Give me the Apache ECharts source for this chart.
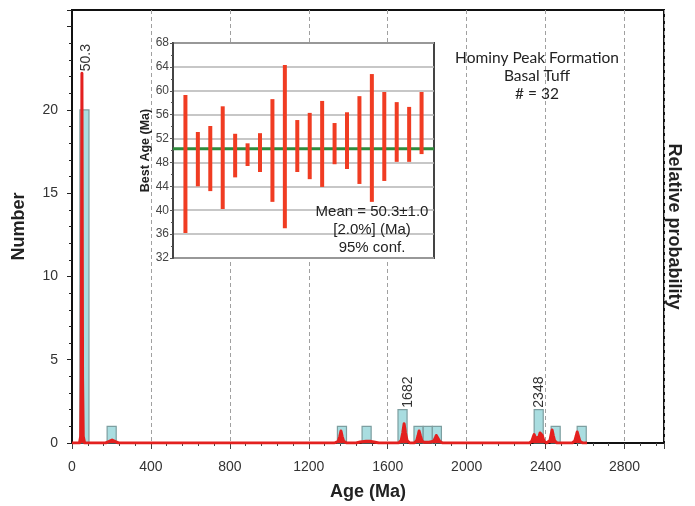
<!DOCTYPE html>
<html><head><meta charset="utf-8">
<script src="https://cdn.jsdelivr.net/npm/echarts@6/dist/echarts.min.js"></script>
<style>html,body{margin:0;padding:0;background:#fff}#c{width:695px;height:506px}</style>
</head><body><div id="c"></div>
<script>
// ---- Main histogram (Age, Ma) ----
const binStart = [40, 178, 1345, 1470, 1652, 1733, 1780, 1826, 2342, 2428, 2560];
const binEnd   = [86, 224, 1391, 1516, 1698, 1779, 1826, 1872, 2388, 2474, 2606];
const binCount = [20, 1, 1, 1, 2, 1, 1, 1, 2, 1, 1];

// ---- Relative probability curve (in "Number" units) ----
const probAge = [0, 38, 44, 47, 49, 50.3, 51.6, 53.5, 57, 64,
  170, 186, 203, 220, 236,
  1330, 1349, 1357, 1363, 1369, 1377, 1392,
  1440, 1460, 1490, 1510, 1530, 1555,
  1655, 1668, 1676, 1683, 1690, 1698, 1712,
  1735, 1747, 1754, 1759, 1765, 1773, 1785, 1810, 1832, 1841, 1846, 1850, 1855, 1863, 1878,
  2318, 2330, 2337, 2342, 2349, 2358, 2366, 2372, 2377, 2383, 2392, 2405,
  2412, 2422, 2428, 2433, 2439, 2446, 2458,
  2535, 2548, 2555, 2560, 2566, 2574, 2588, 2610];
const probVal = [0, 0, 0.4, 4, 15, 22.2, 15, 4, 0.4, 0,
  0, 0.08, 0.18, 0.08, 0,
  0, 0.1, 0.4, 0.72, 0.4, 0.1, 0,
  0, 0.06, 0.1, 0.1, 0.06, 0,
  0, 0.15, 0.6, 1.15, 0.6, 0.15, 0,
  0, 0.15, 0.45, 0.72, 0.45, 0.12, 0.04, 0.04, 0.1, 0.3, 0.45, 0.5, 0.35, 0.1, 0,
  0, 0.1, 0.35, 0.5, 0.3, 0.2, 0.35, 0.6, 0.72, 0.45, 0.1, 0,
  0, 0.15, 0.5, 0.78, 0.45, 0.12, 0,
  0, 0.12, 0.42, 0.66, 0.42, 0.1, 0, 0];

// ---- Peak labels ----
const peakLabels = ['50.3', '1682', '2348'];
const peakAges = [50.3, 1682, 2348];
const peakTops = [22.2, 2, 2];

// ---- Axis ticks ----
const xTickLabels = [0, 400, 800, 1200, 1600, 2000, 2400, 2800];
const yTickLabels = [0, 5, 10, 15, 20];
const insetTickLabels = [32, 36, 40, 44, 48, 52, 56, 60, 64, 68];

// ---- Inset: best ages with error bars (Ma) ----
const grainLow  = [36.2, 44.0, 43.2, 40.2, 45.5, 47.4, 46.4, 41.4, 37.0, 46.4, 45.2, 43.9, 47.7, 46.9, 44.4, 41.4, 44.9, 48.1, 48.1, 49.4];
const grainHigh = [59.3, 53.1, 54.1, 57.4, 52.8, 51.2, 52.9, 58.6, 64.3, 55.1, 56.3, 58.3, 54.6, 56.4, 59.1, 62.8, 59.8, 58.1, 57.3, 59.8];
const meanAge = 50.3;
const meanText = ['Mean = 50.3\u00b11.0', '[2.0%] (Ma)', '95% conf.'];
const titleText = ['Hominy Peak Formation', 'Basal Tuff', '# = 32'];

const FONT = '"Liberation Sans", Arial, sans-serif';
const chart = echarts.init(document.getElementById('c'));

const histData = binStart.map((s, i) => [s, binEnd[i], binCount[i]]);
const probData = probAge.map((a, i) => [a, probVal[i]]);
const grainData = grainLow.map((lo, i) => [i + 1, lo, grainHigh[i]]);
const labelData = peakAges.map((a, i) => [a, peakTops[i], peakLabels[i]]);
const insetMax = grainLow.length + 1;

const option = {
  animation: false,
  backgroundColor: '#fff',
  grid: [
    {left: 72, right: 31, top: 10, bottom: 62, show: true, borderColor: '#111', borderWidth: 2, backgroundColor: 'transparent'},
    {left: 173, top: 43, width: 261, height: 215, show: true, borderColor: '#444', borderWidth: 2, backgroundColor: '#fff', z: 3}
  ],
  xAxis: [
    {type: 'value', gridIndex: 0, min: 0, max: 3000, interval: 400,
     name: 'Age (Ma)', nameLocation: 'middle', nameGap: 40,
     nameTextStyle: {fontFamily: FONT, fontSize: 18, fontWeight: 'bold', color: '#222'},
     axisLine: {show: true, onZero: false, lineStyle: {color: '#111', width: 2}},
     axisTick: {show: true, length: 6, lineStyle: {color: '#444'}},
     minorTick: {show: true, splitNumber: 5, length: 3, lineStyle: {color: '#444'}},
     axisLabel: {fontFamily: FONT, fontSize: 14, color: '#333', margin: 17,
       formatter: v => xTickLabels.indexOf(v) >= 0 ? String(v) : ''},
     splitLine: {show: true, lineStyle: {color: '#a0a0a0', width: 1, type: [4, 3]}}
    },
    {type: 'value', gridIndex: 1, min: 0, max: insetMax, z: 4,
     axisLine: {show: false}, axisTick: {show: false}, axisLabel: {show: false}, splitLine: {show: false}}
  ],
  yAxis: [
    {type: 'value', gridIndex: 0, min: 0, max: 26, interval: 5,
     name: 'Number', nameLocation: 'middle', nameGap: 44,
     nameTextStyle: {fontFamily: FONT, fontSize: 18, fontWeight: 'bold', color: '#222'},
     axisLine: {show: true, onZero: false, lineStyle: {color: '#111', width: 2}},
     axisTick: {show: true, length: 5, lineStyle: {color: '#222'}},
     minorTick: {show: true, splitNumber: 5, length: 3, lineStyle: {color: '#222'}},
     axisLabel: {fontFamily: FONT, fontSize: 14, color: '#333', margin: 14,
       formatter: v => yTickLabels.indexOf(v) >= 0 ? String(v) : ''},
     splitLine: {show: false}
    },
    {type: 'value', gridIndex: 0, min: 0, max: 26, position: 'right',
     name: 'Relative probability', nameLocation: 'middle', nameGap: 1, nameRotate: -90,
     nameTextStyle: {fontFamily: FONT, fontSize: 18, fontWeight: 'bold', color: '#222'},
     axisLine: {show: true, lineStyle: {color: '#111', width: 2}},
     axisTick: {show: false}, axisLabel: {show: false}, splitLine: {show: false}
    },
    {type: 'value', gridIndex: 1, min: 32, max: 68, interval: 4, z: 4,
     name: 'Best Age (Ma)', nameLocation: 'middle', nameGap: 19,
     nameTextStyle: {fontFamily: FONT, fontSize: 12.5, fontWeight: 'bold', color: '#222'},
     axisLine: {show: true, lineStyle: {color: '#444', width: 2}},
     axisTick: {show: true, length: 3, lineStyle: {color: '#555'}},
     minorTick: {show: true, splitNumber: 2, length: 2, lineStyle: {color: '#555'}},
     axisLabel: {fontFamily: FONT, fontSize: 12, color: '#444', margin: 4,
       formatter: v => insetTickLabels.indexOf(v) >= 0 ? String(v) : ''},
     splitLine: {show: true, lineStyle: {color: '#b5b5b5', width: 1.5}}
    }
  ],
  series: [
    {type: 'custom', xAxisIndex: 0, yAxisIndex: 0, z: 2, data: histData,
     renderItem: (params, api) => {
       const p0 = api.coord([api.value(0), api.value(2)]);
       const p1 = api.coord([api.value(1), 0]);
       return {type: 'rect', shape: {x: p0[0], y: p0[1], width: p1[0] - p0[0], height: p1[1] - p0[1]},
         style: {fill: '#a9dde0', stroke: '#7d9ea0', lineWidth: 1.2}};
     }},
    {type: 'line', xAxisIndex: 0, yAxisIndex: 0, z: 3, data: probData, symbol: 'none',
     lineStyle: {color: '#e3201f', width: 3, join: 'round'},
     areaStyle: {color: '#e3201f', opacity: 1}},
    {type: 'custom', xAxisIndex: 0, yAxisIndex: 0, z: 4, data: labelData,
     renderItem: (params, api) => {
       const p = api.coord([api.value(0), api.value(1)]);
       return {type: 'text', x: p[0] + 4, y: p[1] - 2, rotation: Math.PI / 2,
         style: {text: peakLabels[params.dataIndex], fontFamily: FONT, fontSize: 14, fill: '#333',
           align: 'left', verticalAlign: 'middle'}};
     }},
    {type: 'line', xAxisIndex: 1, yAxisIndex: 2, z: 5, symbol: 'none',
     data: [[0, meanAge], [insetMax, meanAge]],
     lineStyle: {color: '#2e8b3c', width: 3}},
    {type: 'custom', xAxisIndex: 1, yAxisIndex: 2, z: 6, data: grainData,
     renderItem: (params, api) => {
       const top = api.coord([api.value(0), api.value(2)]);
       const bot = api.coord([api.value(0), api.value(1)]);
       return {type: 'rect', shape: {x: top[0] - 2, y: top[1], width: 4, height: bot[1] - top[1]},
         style: {fill: '#f03c22'}};
     }}
  ],
  graphic: [
    ...titleText.map((t, i) => ({type: 'text', x: 537, y: 58 + i * 18, z: 10,
      style: {text: t, fontFamily: 'Lato, "Open Sans", sans-serif', fontSize: 15.5, fill: '#222',
        align: 'center', verticalAlign: 'middle'}})),
    ...meanText.map((t, i) => ({type: 'text', x: 372, y: 212 + i * 18, z: 10,
      style: {text: t, fontFamily: FONT, fontSize: 15, fill: '#222',
        align: 'center', verticalAlign: 'middle'}}))
  ]
};
chart.setOption(option);
</script></body></html>
